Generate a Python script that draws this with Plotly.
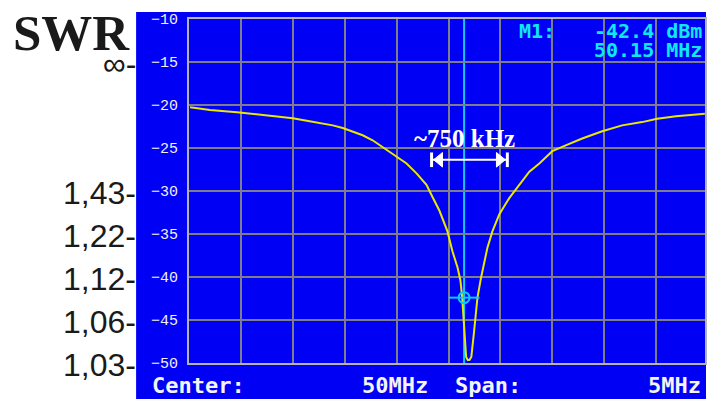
import plotly.graph_objects as go

# ---- data ----
freq_mhz = [47.510, 47.702, 47.962, 48.183, 48.346, 48.500, 48.635, 48.760, 48.885, 48.981,
            49.077, 49.173, 49.269, 49.365, 49.462, 49.596, 49.692, 49.788, 49.846, 49.913,
            49.990, 50.038, 50.087, 50.115, 50.132, 50.144, 50.158, 50.170, 50.185, 50.202,
            50.220, 50.231, 50.245, 50.260, 50.279, 50.314, 50.346, 50.375, 50.423, 50.490,
            50.587, 50.654, 50.779, 50.875, 51.000, 51.135, 51.288, 51.481, 51.673, 51.865,
            52.010, 52.192, 52.385, 52.470]
level_dbm = [-20.26, -20.57, -20.84, -21.10, -21.33, -21.53, -21.84, -22.10, -22.37, -22.68,
             -23.06, -23.52, -24.10, -24.87, -25.64, -26.80, -27.95, -29.29, -30.70, -32.30,
             -34.70, -37.00, -38.90, -40.40, -42.40, -45.00, -48.10, -49.30, -49.65, -49.65,
             -49.30, -48.30, -46.50, -44.70, -42.40, -40.05, -38.10, -36.60, -34.70, -32.70,
             -30.80, -29.70, -27.75, -26.80, -25.37, -24.67, -23.90, -23.06, -22.37, -21.99,
             -21.60, -21.30, -21.07, -21.03]

y_ticks = [-10, -15, -20, -25, -30, -35, -40, -45, -50]
swr_labels = ["∞", "1,43", "1,22", "1,12", "1,06", "1,03"]
swr_levels = [-15, -30, -35, -40, -45, -50]

marker_freq = 50.15
marker_level = -42.4
center_label = "50MHz"
span_label = "5MHz"
bw_label = "~750 kHz"
bw_start = 49.837
bw_end = 50.567
bw_level = -26.37

# ---- geometry helpers (pixels -> paper) ----
W, H = 719, 399
L, R, T, B = 189, 706, 16, 363


def px(xp):
    return (xp - L) / (R - L)


def py(yp):
    return (B - yp) / (B - T)


BLUE = "#0000f5"
GRID = "#7d7d8c"
FRAME = "#b4b4b4"
CYAN_LINE = "#10c8ff"
CYAN_TXT = "#10e8f0"
YELLOW = "#e8e800"

fig = go.Figure()

fig.add_trace(go.Scatter(x=freq_mhz, y=level_dbm, mode="lines",
                         line=dict(color=YELLOW, width=2), hoverinfo="skip",
                         showlegend=False))
# marker symbol
fig.add_trace(go.Scatter(x=[marker_freq], y=[marker_level], mode="markers",
                         marker=dict(symbol="line-ew-open", size=22, color=CYAN_LINE,
                                     line=dict(color=CYAN_LINE, width=2)),
                         showlegend=False, hoverinfo="skip"))
fig.add_trace(go.Scatter(x=[marker_freq], y=[marker_level], mode="markers",
                         marker=dict(symbol="circle-open", size=11, color=CYAN_LINE,
                                     line=dict(color=CYAN_LINE, width=2)),
                         showlegend=False, hoverinfo="skip"))

shapes = []
# blue instrument background
shapes.append(dict(type="rect", xref="paper", yref="paper",
                   x0=px(136), x1=px(707), y0=py(400), y1=py(9),
                   fillcolor=BLUE, line=dict(width=0), layer="below"))
# marker vertical line
shapes.append(dict(type="line", xref="x", yref="paper", x0=marker_freq, x1=marker_freq,
                   y0=0, y1=1, line=dict(color=CYAN_LINE, width=2), layer="below"))

# bandwidth arrow (white)
dx = 0.085
dy = 0.85
shapes.append(dict(type="line", xref="x", yref="y", x0=bw_start, x1=bw_end,
                   y0=bw_level, y1=bw_level, line=dict(color="white", width=2)))
shapes.append(dict(type="line", xref="x", yref="y", x0=bw_start, x1=bw_start,
                   y0=bw_level - dy, y1=bw_level + dy, line=dict(color="white", width=3)))
shapes.append(dict(type="line", xref="x", yref="y", x0=bw_end, x1=bw_end,
                   y0=bw_level - dy, y1=bw_level + dy, line=dict(color="white", width=3)))
shapes.append(dict(type="path", xref="x", yref="y",
                   path=f"M {bw_start+0.02} {bw_level} L {bw_start+0.02+dx} {bw_level+dy} "
                        f"L {bw_start+0.02+dx} {bw_level-dy} Z",
                   fillcolor="white", line=dict(color="white", width=1)))
shapes.append(dict(type="path", xref="x", yref="y",
                   path=f"M {bw_end-0.02} {bw_level} L {bw_end-0.02-dx} {bw_level+dy} "
                        f"L {bw_end-0.02-dx} {bw_level-dy} Z",
                   fillcolor="white", line=dict(color="white", width=1)))

annotations = []
# SWR title
annotations.append(dict(text="<b>SWR</b>", xref="paper", yref="paper",
                        x=px(11), y=py(30), xanchor="left", yanchor="middle",
                        showarrow=False,
                        font=dict(family="Liberation Serif", size=51, color="#1a1a1a")))
for lab, lev in zip(swr_labels, swr_levels):
    annotations.append(dict(text=lab + "-", xref="paper", yref="y",
                            x=px(138), y=lev, xanchor="right", yanchor="middle",
                            yshift=-2, showarrow=False,
                            font=dict(family="Liberation Sans", size=32, color="#1a1a1a")))

mono = "DejaVu Sans Mono"
# bottom status line
annotations += [
    dict(text="<b>Center:</b>", x=px(150), xanchor="left"),
    dict(text=f"<b>{center_label}</b>", x=px(430), xanchor="right"),
    dict(text="<b>Span:</b>", x=px(454), xanchor="left"),
    dict(text=f"<b>{span_label}</b>", x=px(704), xanchor="right"),
]
for a in annotations[-4:]:
    a.update(xref="paper", yref="paper", y=py(386), yanchor="middle", showarrow=False,
             font=dict(family=mono, size=22, color="#f4f4f4"))

# marker readout
annotations += [
    dict(text="<b>M1:</b>", x=px(518), y=py(28), xanchor="left"),
    dict(text=f"<b>{marker_level:.1f} dBm</b>", x=px(705), y=py(28), xanchor="right"),
    dict(text=f"<b>{marker_freq:.2f} MHz</b>", x=px(705), y=py(47), xanchor="right"),
]
for a in annotations[-3:]:
    a.update(xref="paper", yref="paper", yanchor="middle", showarrow=False,
             font=dict(family=mono, size=20, color=CYAN_TXT))

# bandwidth label
annotations.append(dict(text=f"<b>{bw_label}</b>", xref="x", yref="paper",
                        x=(bw_start + bw_end) / 2 - 0.05, y=py(137),
                        xanchor="center", yanchor="middle", showarrow=False,
                        font=dict(family="Liberation Serif", size=25, color="white")))

fig.update_layout(
    width=W, height=H,
    margin=dict(l=L, r=W - R, t=T, b=H - B, pad=0),
    paper_bgcolor="white", plot_bgcolor=BLUE,
    shapes=shapes, annotations=annotations,
    showlegend=False,
)
fig.update_xaxes(range=[47.5, 47.5 + (R - L) / 104.0], tick0=47.5, dtick=0.5,
                 showticklabels=False, showgrid=True, gridcolor=GRID, gridwidth=2,
                 zeroline=False, showline=True, linecolor=FRAME, linewidth=2, mirror=True,
                 ticks="")
fig.update_yaxes(range=[-50, -10], tickvals=y_ticks,
                 ticktext=[f"−{abs(v)}" for v in y_ticks],
                 showgrid=True, gridcolor=GRID, gridwidth=2, zeroline=False,
                 showline=True, linecolor=FRAME, linewidth=2, mirror=True,
                 ticks="", ticklabelstandoff=6,
                 tickfont=dict(family="Liberation Mono", size=15, color="#f0f0f0"))

fig.write_html("out.html", config={"displayModeBar": False},
               post_script="document.body.style.margin='0';document.body.style.overflow='hidden';")
